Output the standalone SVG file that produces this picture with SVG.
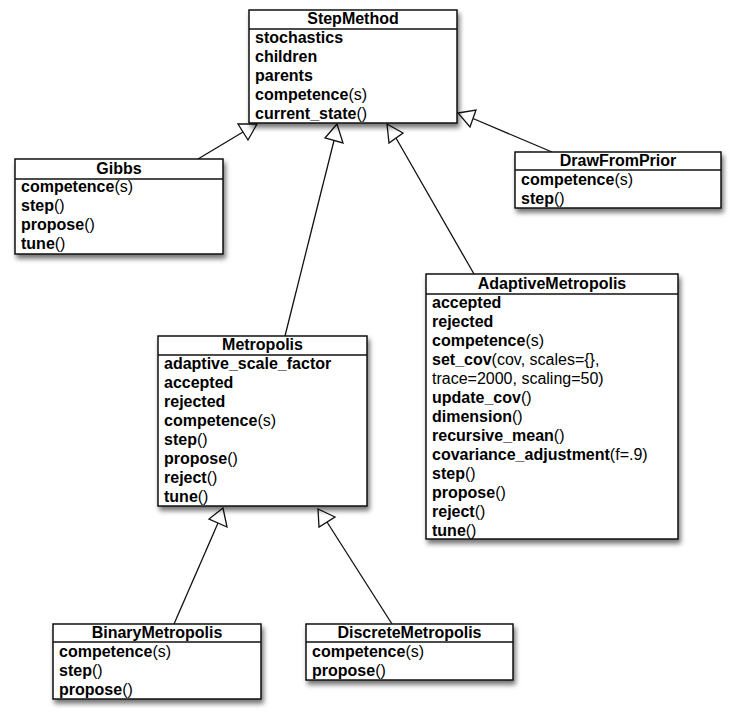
<svg xmlns="http://www.w3.org/2000/svg" width="737" height="719" viewBox="0 0 737 719">
<defs>
<filter id="sh" x="-10%" y="-10%" width="130%" height="130%">
<feGaussianBlur in="SourceAlpha" stdDeviation="2.5"/>
<feOffset dx="2" dy="4" result="b"/>
<feComponentTransfer><feFuncA type="linear" slope="0.55"/></feComponentTransfer>
<feMerge><feMergeNode/><feMergeNode in="SourceGraphic"/></feMerge>
</filter>
</defs>
<style>
rect.box{fill:#fff;stroke:#111;stroke-width:1.5;filter:url(#sh)}
line.div{stroke:#111;stroke-width:1.5}
text{font-family:"Liberation Sans",Arial,Helvetica,sans-serif;font-size:16px;font-weight:bold;fill:#000}
text.t{text-anchor:middle}
tspan.n{font-weight:normal}
.conn line{stroke:#111;stroke-width:1.3}
.conn polygon{fill:#fff;stroke:#111;stroke-width:1.3;stroke-linejoin:miter}
</style>
<g id="connectors" class="conn">
<line x1="198" y1="159" x2="243" y2="132"/>
<polygon points="238,124 257,124 248,140"/>
<line x1="285" y1="336" x2="334" y2="140.5"/>
<polygon points="337,124 325,138 343,143"/>
<line x1="474" y1="274" x2="396" y2="138"/>
<polygon points="387,124 403,133 389,143"/>
<line x1="552" y1="152" x2="473" y2="118.5"/>
<polygon points="458,113 476,110 470,127"/>
<line x1="174" y1="624" x2="218" y2="523"/>
<polygon points="223,508 209,519 227,527"/>
<line x1="392" y1="624" x2="327" y2="522"/>
<polygon points="318,509 335,517 319,527"/>
</g>
<g id="StepMethod">
<rect class="box" x="249" y="10" width="208" height="113"/>
<line class="div" x1="249" y1="29" x2="457" y2="29"/>
<text class="t" x="353" y="24">StepMethod</text>
<text x="255" y="43">stochastics</text>
<text x="255" y="62">children</text>
<text x="255" y="81">parents</text>
<text x="255" y="100">competence<tspan class="n">(s)</tspan></text>
<text x="255" y="119">current_state<tspan class="n">()</tspan></text>
</g>
<g id="Gibbs">
<rect class="box" x="15" y="159" width="208" height="95"/>
<line class="div" x1="15" y1="179" x2="223" y2="179"/>
<text class="t" x="119" y="174">Gibbs</text>
<text x="21" y="192">competence<tspan class="n">(s)</tspan></text>
<text x="21" y="211">step<tspan class="n">()</tspan></text>
<text x="21" y="230">propose<tspan class="n">()</tspan></text>
<text x="21" y="249">tune<tspan class="n">()</tspan></text>
</g>
<g id="DrawFromPrior">
<rect class="box" x="515" y="152" width="206" height="56"/>
<line class="div" x1="515" y1="170" x2="721" y2="170"/>
<text class="t" x="618" y="166">DrawFromPrior</text>
<text x="521" y="185">competence<tspan class="n">(s)</tspan></text>
<text x="521" y="204">step<tspan class="n">()</tspan></text>
</g>
<g id="AdaptiveMetropolis">
<rect class="box" x="426" y="274" width="252" height="265"/>
<line class="div" x1="426" y1="294" x2="678" y2="294"/>
<text class="t" x="552" y="289">AdaptiveMetropolis</text>
<text x="432" y="308">accepted</text>
<text x="432" y="327">rejected</text>
<text x="432" y="346">competence<tspan class="n">(s)</tspan></text>
<text x="432" y="365">set_cov<tspan class="n">(cov, scales={},</tspan></text>
<text x="432" y="384"><tspan class="n">trace=2000, scaling=50)</tspan></text>
<text x="432" y="403">update_cov<tspan class="n">()</tspan></text>
<text x="432" y="422">dimension<tspan class="n">()</tspan></text>
<text x="432" y="441">recursive_mean<tspan class="n">()</tspan></text>
<text x="432" y="460">covariance_adjustment<tspan class="n">(f=.9)</tspan></text>
<text x="432" y="479">step<tspan class="n">()</tspan></text>
<text x="432" y="498">propose<tspan class="n">()</tspan></text>
<text x="432" y="517">reject<tspan class="n">()</tspan></text>
<text x="432" y="536">tune<tspan class="n">()</tspan></text>
</g>
<g id="Metropolis">
<rect class="box" x="158" y="336" width="209" height="170"/>
<line class="div" x1="158" y1="355" x2="367" y2="355"/>
<text class="t" x="262.5" y="350">Metropolis</text>
<text x="164" y="369">adaptive_scale_factor</text>
<text x="164" y="388">accepted</text>
<text x="164" y="407">rejected</text>
<text x="164" y="426">competence<tspan class="n">(s)</tspan></text>
<text x="164" y="445">step<tspan class="n">()</tspan></text>
<text x="164" y="464">propose<tspan class="n">()</tspan></text>
<text x="164" y="483">reject<tspan class="n">()</tspan></text>
<text x="164" y="502">tune<tspan class="n">()</tspan></text>
</g>
<g id="BinaryMetropolis">
<rect class="box" x="53" y="624" width="208" height="75"/>
<line class="div" x1="53" y1="642" x2="261" y2="642"/>
<text class="t" x="157" y="638">BinaryMetropolis</text>
<text x="59" y="657">competence<tspan class="n">(s)</tspan></text>
<text x="59" y="676">step<tspan class="n">()</tspan></text>
<text x="59" y="695">propose<tspan class="n">()</tspan></text>
</g>
<g id="DiscreteMetropolis">
<rect class="box" x="306" y="624" width="207" height="56"/>
<line class="div" x1="306" y1="642" x2="513" y2="642"/>
<text class="t" x="409.5" y="638">DiscreteMetropolis</text>
<text x="312" y="657">competence<tspan class="n">(s)</tspan></text>
<text x="312" y="676">propose<tspan class="n">()</tspan></text>
</g>
</svg>
